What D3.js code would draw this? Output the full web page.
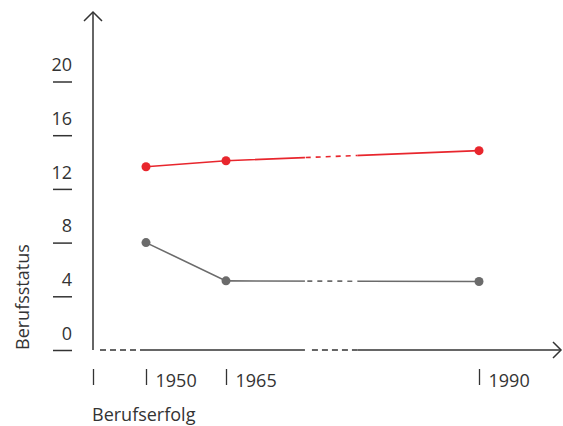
<!DOCTYPE html>
<html>
<head>
<meta charset="utf-8">
<script src="https://cdn.jsdelivr.net/npm/d3@7"></script>
<style>
  body { margin: 0; background: #fff; }
  svg { display: block; font-family: 'Open Sans', sans-serif; }
</style>
</head>
<body>
<svg id="chart" width="563" height="426"></svg>
<script>
// data
const years = [1950, 1965, 1990];
const redValues = [13.65, 14.1, 14.85];
const grayValues = [8.0, 5.15, 5.1];
const yTicks = [0, 4, 8, 12, 16, 20];
const xTicks = [1940, 1950, 1965, 1990];
const xTickLabels = ['', '1950', '1965', '1990'];
const axisBreak = [1972.8, 1978]; // the gap between 1965 and 1990 is shown dashed

const svg = d3.select('#chart');
const ink = '#333';
const red = '#e8262d';
const gray = '#6b6b6b';

// x is not linear in years, so a piecewise scale
const x = d3.scaleLinear()
  .domain([1940, 1950, 1965, 1990, 1998])
  .range([93, 146, 226, 479, 561]);
const y = d3.scaleLinear().domain([0, 20]).range([350, 81.5]);
const yTop = 12;

// clip regions for solid vs dashed parts of the lines
const defs = svg.append('defs');
const solidClip = defs.append('clipPath').attr('id', 'solidClip');
solidClip.append('rect').attr('x', 0).attr('y', 0)
  .attr('width', x(axisBreak[0])).attr('height', 426);
solidClip.append('rect').attr('x', x(axisBreak[1])).attr('y', 0)
  .attr('width', 563 - x(axisBreak[1])).attr('height', 426);
defs.append('clipPath').attr('id', 'dashClip')
  .append('rect').attr('x', x(axisBreak[0])).attr('y', 0)
  .attr('width', x(axisBreak[1]) - x(axisBreak[0])).attr('height', 426);

// y axis: little dashes with the number above them
const yAxis = svg.append('g')
  .attr('transform', 'translate(72,0)')
  .call(d3.axisLeft(y).tickValues(yTicks).tickSize(19).tickPadding(0));
yAxis.select('.domain').remove();
yAxis.selectAll('.tick line').attr('stroke', ink).attr('stroke-width', 1.5);
yAxis.selectAll('.tick text')
  .attr('x', 0).attr('y', -17).attr('dy', '0.35em')
  .attr('text-anchor', 'end')
  .attr('fill', ink)
  .attr('font-size', 18)
  .attr('font-family', "'Open Sans', sans-serif");

// y axis line + arrow
svg.append('line')
  .attr('x1', x(1940)).attr('x2', x(1940))
  .attr('y1', y(0)).attr('y2', yTop)
  .attr('stroke', ink).attr('stroke-width', 1.5);
svg.append('path')
  .attr('d', `M${x(1940) - 9},${yTop + 9}L${x(1940)},${yTop}L${x(1940) + 9},${yTop + 9}`)
  .attr('fill', 'none').attr('stroke', ink).attr('stroke-width', 1.5);

// x axis line, dashed at the start and in the break
const xEnd = x.domain()[x.domain().length - 1];
const xSegs = [
  { from: 1940, to: 1950, dashed: true },
  { from: 1950, to: axisBreak[0], dashed: false },
  { from: axisBreak[0], to: axisBreak[1], dashed: true },
  { from: axisBreak[1], to: xEnd, dashed: false },
];
svg.append('g').selectAll('line')
  .data(xSegs)
  .enter()
  .append('line')
  .attr('x1', (d) => x(d.from) + (d.dashed ? 7 : 0))
  .attr('x2', (d) => x(d.to))
  .attr('y1', y(0)).attr('y2', y(0))
  .attr('stroke', ink).attr('stroke-width', 1.5)
  .attr('stroke-dasharray', (d) => (d.dashed ? '6,4' : null));
svg.append('path')
  .attr('d', `M${x(xEnd) - 8},${y(0) - 8}L${x(xEnd)},${y(0)}L${x(xEnd) - 8},${y(0) + 8}`)
  .attr('fill', 'none').attr('stroke', ink).attr('stroke-width', 1.5);

// x ticks: bars below the axis with the year to the right
const xAxis = svg.append('g')
  .attr('transform', 'translate(0,369)')
  .call(d3.axisBottom(x).tickValues(xTicks).tickSize(16)
    .tickFormat((d, i) => xTickLabels[i]));
xAxis.select('.domain').remove();
xAxis.selectAll('.tick line').attr('stroke', ink).attr('stroke-width', 1.3);
xAxis.selectAll('.tick text')
  .attr('x', 9).attr('y', 18).attr('dy', 0)
  .attr('text-anchor', 'start')
  .attr('fill', ink)
  .attr('font-size', 18)
  .attr('font-family', "'Open Sans', sans-serif");

// the two series
const series = [
  { values: redValues, color: red },
  { values: grayValues, color: gray },
];
const line = d3.line()
  .x((d) => x(d[0]))
  .y((d) => y(d[1]));

series.forEach((s) => {
  const pts = years.map((yr, i) => [yr, s.values[i]]);
  svg.append('path')
    .attr('d', line(pts))
    .attr('fill', 'none')
    .attr('stroke', s.color)
    .attr('stroke-width', 1.6)
    .attr('clip-path', 'url(#solidClip)');
  svg.append('path')
    .attr('d', line(pts))
    .attr('fill', 'none')
    .attr('stroke', s.color)
    .attr('stroke-width', 1.6)
    .attr('stroke-dasharray', '5,5')
    .attr('clip-path', 'url(#dashClip)');
  svg.append('g')
    .selectAll('circle')
    .data(pts)
    .enter()
    .append('circle')
    .attr('cx', (d) => x(d[0]))
    .attr('cy', (d) => y(d[1]))
    .attr('r', 4.5)
    .attr('fill', s.color);
});

// axis titles
svg.append('text')
  .attr('transform', `translate(29,${y(0)}) rotate(-90)`)
  .attr('text-anchor', 'start')
  .attr('font-size', 18)
  .attr('fill', ink)
  .text('Berufsstatus');
svg.append('text')
  .attr('x', 92)
  .attr('y', 421)
  .attr('font-size', 18)
  .attr('fill', ink)
  .text('Berufserfolg');
</script>
</body>
</html>
